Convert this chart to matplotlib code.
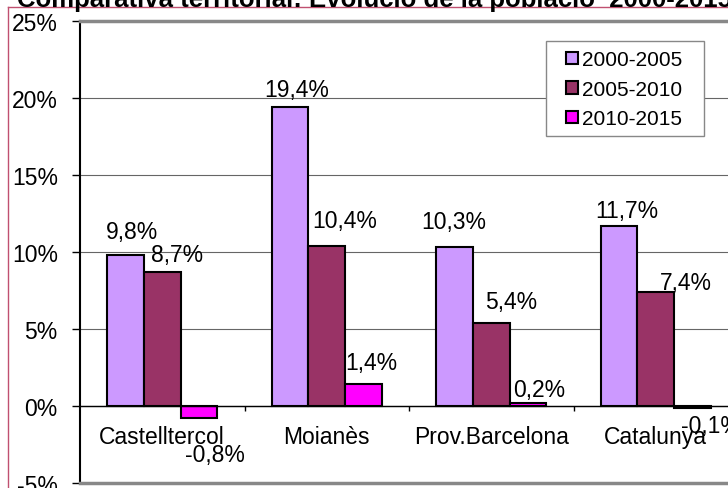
import numpy as np
import matplotlib.pyplot as plt
from matplotlib.lines import Line2D
from matplotlib.patches import Rectangle

plt.rcParams['font.family'] = ['Liberation Sans', 'DejaVu Sans']

# dades
categories = ['Castelltercol', 'Moianès', 'Prov.Barcelona', 'Catalunya']
series = ['2000-2005', '2005-2010', '2010-2015']
v_2000_2005 = [9.8, 19.4, 10.3, 11.7]
v_2005_2010 = [8.7, 10.4, 5.4, 7.4]
v_2010_2015 = [-0.8, 1.4, 0.2, -0.1]
yticks = [-5, 0, 5, 10, 15, 20, 25]

colors = ['#CC99FF', '#993366', '#FF00FF']
# desplacament de les etiquetes (pixels) respecte l'extrem de cada barra
lab_dx = [[6, 6, -1, 8], [15, 18, 20, 30], [16, 8, 11, 19]]
lab_dy = [[24, 18, 26, 15], [18, 25, 21, 10], [-36, 22, 13, -18]]

fs = 16.5

W, H = 728, 489
fig = plt.figure(figsize=(W / 100, H / 100), dpi=100)
ax = fig.add_axes([80 / W, 1 - 484 / H, 658 / W, 462 / H])

x = np.arange(len(categories))
bw = 0.222
vals = [v_2000_2005, v_2005_2010, v_2010_2015]
for k, (name, v) in enumerate(zip(series, vals)):
    xs = x + (k - 1) * bw
    ax.bar(xs, v, bw, color=colors[k], edgecolor='black', linewidth=1.5,
           label=name, zorder=3)
    for i, val in enumerate(v):
        txt = ('%.1f%%' % val).replace('.', ',')
        ax.annotate(txt, (xs[i], val), xytext=(lab_dx[k][i], lab_dy[k][i]),
                    textcoords='offset pixels', ha='center', va='center',
                    fontsize=fs, zorder=5)

ax.set_xlim(-0.5, len(categories) - 0.5)
ax.set_ylim(-5, 25)
ax.set_yticks(yticks)
ax.set_yticklabels(['%d%%' % t for t in yticks], fontsize=fs)
ax.tick_params(axis='y', length=6, width=1, pad=10)
ax.set_xticks([])
ax.yaxis.grid(True, color='#666666', linewidth=0.8, zorder=0)
ax.axhline(0, color='black', linewidth=1, zorder=4)
ax.vlines(x[1:] - 0.5, -0.35, 0, color='black', linewidth=1, zorder=4)
for i, c in enumerate(categories):
    ax.text(x[i], -1.95, c, ha='center', va='center', fontsize=fs)

ax.spines['left'].set_color('black')
ax.spines['left'].set_linewidth(1.5)
for s in ['top', 'bottom', 'right']:
    ax.spines[s].set_color('#888888')
    ax.spines[s].set_linewidth(2.5)

# caixa de la llegenda
ax.add_patch(Rectangle((546 / W, 1 - 137 / H), 158 / W, 95 / H,
                       transform=fig.transFigure, facecolor='white',
                       edgecolor='#888888', linewidth=1, zorder=5.5))
leg = ax.legend(loc='upper left', bbox_to_anchor=((557 - 80) / 658, 1 - 20 / 462),
                fontsize=15, frameon=False, handlelength=0.55,
                handleheight=0.55, handletextpad=0.2, borderpad=0.45,
                labelspacing=0.5, borderaxespad=0)
leg.set_zorder(6)

# vora del grafic
fig.add_artist(Line2D([8 / W, 8 / W], [0, 1 - 8 / H], color='#c05070', linewidth=1))
fig.add_artist(Line2D([8 / W, 1], [1 - 8 / H, 1 - 8 / H], color='#c05070', linewidth=1))

fig.text(17 / W, 1 - 7 / H, 'Comparativa territorial: Evolució de la població  2000-2015',
         fontsize=18.5, fontweight='bold', ha='left', va='baseline')

fig.savefig('out.png', dpi=100)
